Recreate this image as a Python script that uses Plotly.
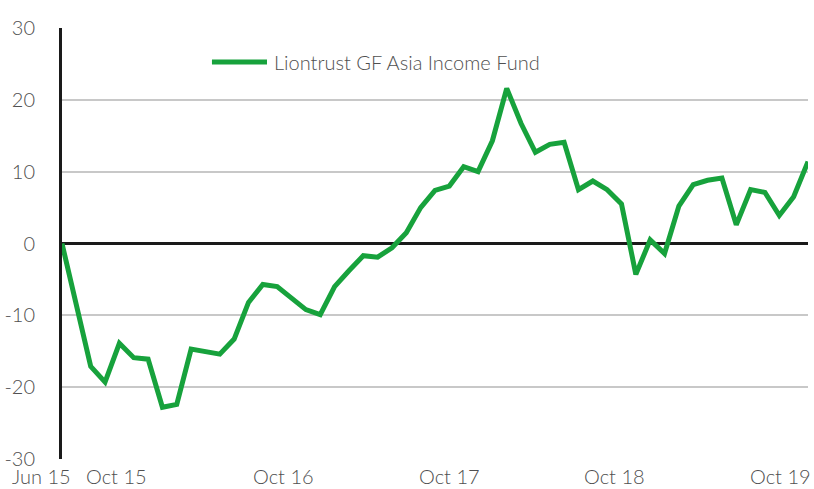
import plotly.graph_objects as go

series_name = "Liontrust GF Asia Income Fund"
values = [0, -8.5, -17.1, -19.3, -13.9, -15.9, -16.1, -22.8, -22.4, -14.7,
          -15.1, -15.4, -13.3, -8.2, -5.7, -6.0, -7.6, -9.2, -9.9, -6.0,
          -3.8, -1.7, -1.9, -0.6, 1.5, 5.0, 7.4, 8.0, 10.7, 10.0,
          14.3, 21.6, 16.7, 12.7, 13.8, 14.1, 7.5, 8.7, 7.5, 5.5,
          -4.3, 0.5, -1.4, 5.2, 8.2, 8.8, 9.1, 2.6, 7.5, 7.1,
          3.9, 6.5, 11.4]
x_index = list(range(len(values)))

x_tick_labels = ["Jun 15", "Oct 15", "Oct 16", "Oct 17", "Oct 18", "Oct 19"]
x_tick_pos = [-1.4, 3.77, 15.45, 26.99, 38.5, 50.07]
y_ticks = [-30, -20, -10, 0, 10, 20, 30]
y_tick_labels = ["-30", "-20", "-10", "0", "10", "20", "30"]

FONT = "Lato Light, Lato"
TXT = "#505050"
GREEN = "#17a23c"
X_MAX = len(values) - 1

fig = go.Figure()
fig.add_trace(go.Scatter(x=x_index, y=values, mode="lines", name=series_name,
                         line=dict(color=GREEN, width=5), showlegend=False,
                         cliponaxis=False))

for lbl, pos in zip(x_tick_labels, x_tick_pos):
    fig.add_annotation(x=pos / X_MAX, y=0, xref="paper", yref="paper", text=lbl,
                       showarrow=False, xanchor="center", yanchor="middle",
                       yshift=-17, font=dict(family=FONT, size=20, color=TXT, weight=300))

# legend
fig.add_shape(type="line", xref="paper", yref="paper", x0=0.201, x1=0.2748,
              y0=0.921, y1=0.921, line=dict(color=GREEN, width=5))
fig.add_annotation(x=0.2815, y=0.921, xref="paper", yref="paper", text=series_name,
                   showarrow=False, xanchor="left", yanchor="middle",
                   font=dict(family=FONT, size=20, color=TXT, weight=300))

fig.update_layout(
    width=814, height=489,
    margin=dict(l=62, r=6, t=28, b=30),
    paper_bgcolor="white", plot_bgcolor="white",
    font=dict(family=FONT, size=20, color=TXT, weight=300),
    xaxis=dict(range=[0, X_MAX], showgrid=False, zeroline=False, showticklabels=False,
               showline=False, ticks="", automargin=False),
    yaxis=dict(range=[-30, 30], tickvals=y_ticks, ticktext=y_tick_labels, showgrid=True,
               gridcolor="#c8c8c8", gridwidth=2, automargin=False,
               zeroline=True, zerolinecolor="#1a1a1a", zerolinewidth=3,
               showline=True, linecolor="#1a1a1a", linewidth=3,
               ticks="", ticklabelstandoff=20,
               tickfont=dict(family=FONT, size=20, color=TXT, weight=300)),
)

fig.write_html("out.html", config={"displayModeBar": False},
               post_script="document.body.style.margin='0';document.body.style.padding='0';")
